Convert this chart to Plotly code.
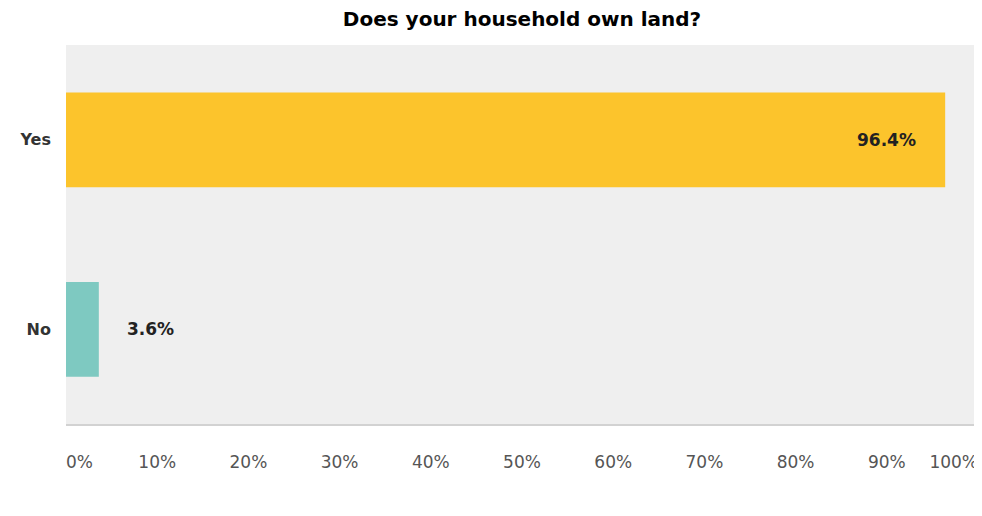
import plotly.graph_objects as go

categories = ["Yes", "No"]
values = [96.4, 3.6]
colors = ["#fcc42c", "#7ec9c1"]
tick_vals = [0, 10, 20, 30, 40, 50, 60, 70, 80, 90, 100]
tick_text = ["0%", "10%", "20%", "30%", "40%", "50%", "60%", "70%", "80%", "90%", "100%"]
title = "Does your household own land?"

fig = go.Figure()
fig.add_trace(go.Bar(
    x=values, y=categories, orientation="h",
    marker=dict(color=colors, line=dict(width=0)),
    width=0.5, hoverinfo="x+y",
))
# empty helper traces so the end-label axes are drawn
for ax in ("x2", "x3"):
    fig.add_trace(go.Scatter(x=[], y=[], xaxis=ax, yaxis="y", mode="markers",
                             showlegend=False, hoverinfo="skip"))

lab_font = dict(family="DejaVu Sans, Liberation Sans", size=17, color="#222", weight="bold")
fig.add_annotation(x=values[0], y=categories[0], text="%.1f%%" % values[0],
                   xanchor="right", xshift=-27, showarrow=False, font=lab_font)
fig.add_annotation(x=values[1], y=categories[1], text="%.1f%%" % values[1],
                   xanchor="left", xshift=26, showarrow=False, font=lab_font)

tick_font = dict(family="DejaVu Sans, Liberation Sans", size=17, color="#555")
common = dict(range=[0, 100], showgrid=False, zeroline=False, ticks="",
              automargin=False, tickfont=tick_font)

fig.update_layout(
    width=974, height=508,
    margin=dict(l=58, r=4, t=37, b=92, autoexpand=False),
    paper_bgcolor="white",
    plot_bgcolor="#efefef",
    showlegend=False,
    title=dict(text="<b>" + title + "</b>", x=0.5, xref="paper", y=0.992, yanchor="top",
               font=dict(family="DejaVu Sans, Liberation Sans", size=20, color="#000")),
    xaxis=dict(tickvals=tick_vals[1:-1], ticktext=tick_text[1:-1], ticklabelstandoff=22,
               showline=True, linecolor="#d2d2d2", linewidth=2, **common),
    xaxis2=dict(tickvals=tick_vals[:1], ticktext=tick_text[:1], overlaying="x", anchor="y",
                side="bottom", showline=False, ticklabelposition="outside right",
                ticklabelstandoff=26, **common),
    xaxis3=dict(tickvals=tick_vals[-1:], ticktext=tick_text[-1:], overlaying="x", anchor="y",
                side="bottom", showline=False, ticklabelposition="outside left",
                ticklabelstandoff=26, **common),
    yaxis=dict(range=[1.5, -0.5], showgrid=False, zeroline=False, ticks="", automargin=False,
               ticklabelstandoff=14,
               tickfont=dict(family="DejaVu Sans, Liberation Sans", size=16, color="#333", weight="bold")),
    bargap=0.5,
)

fig.write_html("out.html")
